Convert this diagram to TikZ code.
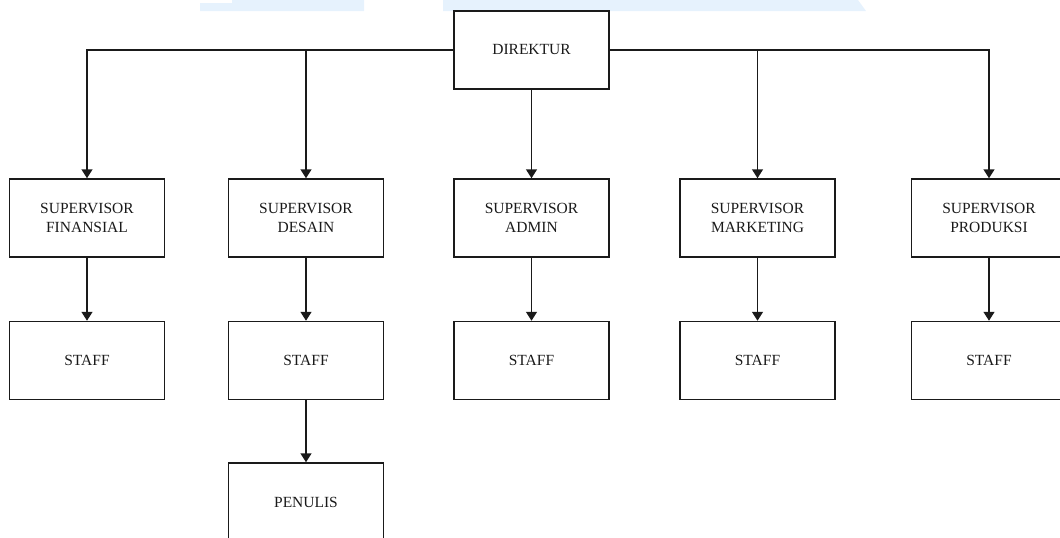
\documentclass[tikz,border=0pt]{standalone}
\usepackage{fontspec}
\setmainfont{Liberation Serif}
\usetikzlibrary{arrows.meta}
\definecolor{wm}{HTML}{E6F2FD}
\definecolor{ln}{HTML}{1A1A1A}
\begin{document}
\begin{tikzpicture}[x=1pt,y=-1pt,
  box/.style={draw=ln,line width=1.5pt,minimum width=155pt,minimum height=78pt,
    inner sep=0pt,align=center,font=\fontsize{15.5pt}{18.5pt}\selectfont,text=ln},
  arr/.style={draw=ln,line width=1.5pt,-{Triangle[length=9pt,width=11pt]}}]
\useasboundingbox (0,0) rectangle (1060,538);
\clip (0,0) rectangle (1060,538);
\fill[wm] (200,3) -- (232,3) -- (232,0) -- (364,0) -- (364,11) -- (200,11) -- cycle;
\fill[wm] (443,0) -- (858,0) -- (866,11) -- (443,11) -- cycle;
\node[box] (dir) at (531.5,50) {DIREKTUR};
\node[box] (s1) at (87,218) {SUPERVISOR\\FINANSIAL};
\node[box] (s2) at (306,218) {SUPERVISOR\\DESAIN};
\node[box] (s3) at (531.5,218) {SUPERVISOR\\ADMIN};
\node[box] (s4) at (757.5,218) {SUPERVISOR\\MARKETING};
\node[box] (s5) at (989,218) {SUPERVISOR\\PRODUKSI};
\node[box] (t1) at (87,360.5) {STAFF};
\node[box] (t2) at (306,360.5) {STAFF};
\node[box] (t3) at (531.5,360.5) {STAFF};
\node[box] (t4) at (757.5,360.5) {STAFF};
\node[box] (t5) at (989,360.5) {STAFF};
\node[box] (p) at (306,502) {PENULIS};
\draw[arr] (dir.west) -| (s1);
\draw[arr] (dir.west) -| (s2);
\draw[arr] (dir) -- (s3);
\draw[arr] (dir.east) -| (s4);
\draw[arr] (dir.east) -| (s5);
\draw[arr] (s1) -- (t1);
\draw[arr] (s2) -- (t2);
\draw[arr] (s3) -- (t3);
\draw[arr] (s4) -- (t4);
\draw[arr] (s5) -- (t5);
\draw[arr] (t2) -- (p);
\end{tikzpicture}
\end{document}
